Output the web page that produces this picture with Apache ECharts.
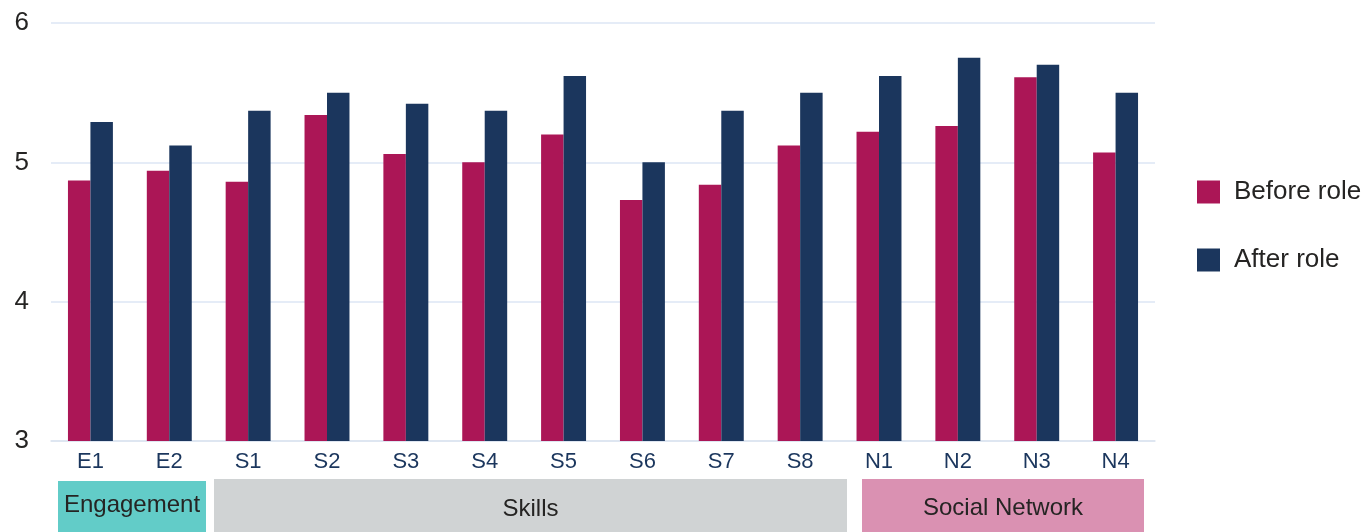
<!DOCTYPE html>
<html>
<head>
<meta charset="utf-8">
<script src="https://cdn.jsdelivr.net/npm/echarts@6/dist/echarts.min.js"></script>
<style>html,body{margin:0;padding:0;background:#fff}#c{width:1367px;height:532px}</style>
</head>
<body>
<div id="c"></div>
<script>
const categories = ['E1','E2','S1','S2','S3','S4','S5','S6','S7','S8','N1','N2','N3','N4'];
const beforeRole = [4.87,4.94,4.86,5.34,5.06,5.00,5.20,4.73,4.84,5.12,5.22,5.26,5.61,5.07];
const afterRole  = [5.29,5.12,5.37,5.50,5.42,5.37,5.62,5.00,5.37,5.50,5.62,5.75,5.70,5.50];
const yTicks = [3,4,5,6];
const groups = [
  {name:'Engagement', color:'#62ccc8', x0:58, x1:206, top:481, textY:505},
  {name:'Skills', color:'#d0d3d4', x0:214, x1:847, top:479, textY:509},
  {name:'Social Network', color:'#da91b2', x0:862, x1:1144, top:479, textY:508}
];
const FONT = 'Liberation Sans, Arial, sans-serif';
const chart = echarts.init(document.getElementById('c'), null, {renderer:'canvas'});
const graphic = [];
groups.forEach(g => {
  graphic.push({type:'rect', shape:{x:g.x0, y:g.top, width:g.x1-g.x0, height:532-g.top}, style:{fill:g.color}, z:0});
  graphic.push({type:'text', x:(g.x0+g.x1)/2, y:g.textY, style:{text:g.name, fill:'#252423', font:'24px ' + FONT, textAlign:'center', textVerticalAlign:'middle'}, z:1});
});
chart.setOption({
  animation:false,
  textStyle:{fontFamily:FONT},
  grid:{left:51, right:212, top:23, bottom:91, containLabel:false},
  legend:{
    orient:'vertical', left:1192, top:174, itemWidth:23, itemHeight:23, itemGap:42,
    icon:'rect',
    textStyle:{fontSize:26, color:'#252423', fontFamily:FONT, padding:[0,0,0,9]},
    data:['Before role','After role']
  },
  xAxis:{
    type:'category', data:categories,
    axisLine:{lineStyle:{color:'#dce3f0', width:1.5}},
    axisTick:{show:false},
    axisLabel:{color:'#1b365d', fontSize:22, margin:10, fontFamily:FONT}
  },
  yAxis:{
    type:'value', min:yTicks[0], max:yTicks[yTicks.length-1], interval:1,
    axisLine:{show:false}, axisTick:{show:false},
    axisLabel:{color:'#252423', fontSize:26, margin:22, fontFamily:FONT},
    splitLine:{lineStyle:{color:'#dce6f5', width:1.5}}
  },
  series:[
    {name:'Before role', type:'bar', data:beforeRole, barGap:'0%', barCategoryGap:'43%', itemStyle:{color:'#ab1656'}},
    {name:'After role', type:'bar', data:afterRole, itemStyle:{color:'#1b365d'}}
  ],
  graphic:graphic
});
</script>
</body>
</html>
